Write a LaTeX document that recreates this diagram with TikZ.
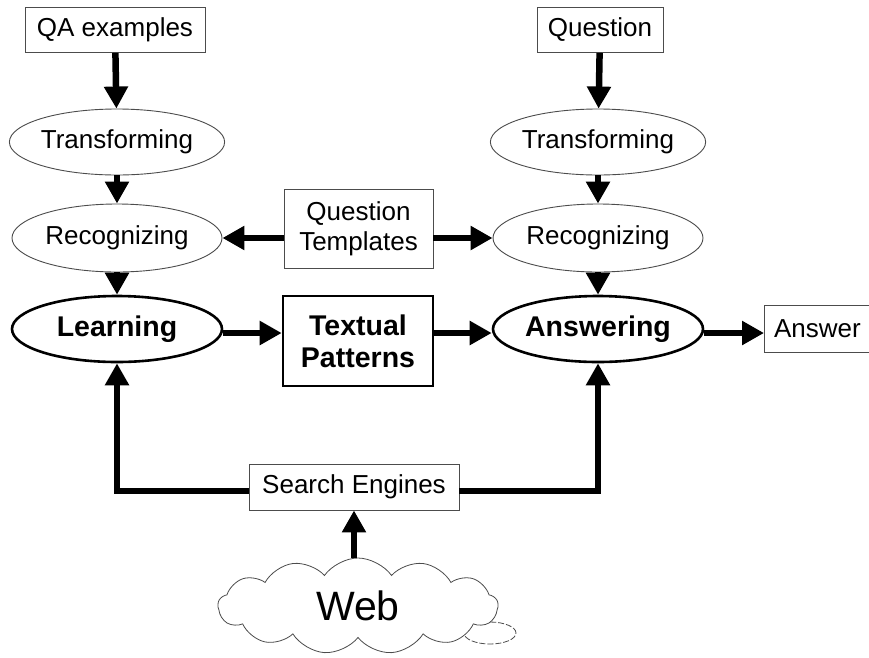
\documentclass[tikz,border=0pt]{standalone}
\usepackage{fontspec}
\setmainfont{Liberation Sans}
\usetikzlibrary{arrows.meta,shapes.geometric,shapes.symbols}
\begin{document}
\begin{tikzpicture}[x=1pt,y=-1pt,
  box/.style={draw=black!70,line width=0.9pt,rectangle,inner sep=0pt,font=\fontsize{26}{30}\selectfont,align=center},
  thinell/.style={draw=black!70,line width=0.9pt,ellipse,inner sep=0pt,minimum width=210pt,minimum height=66pt,font=\fontsize{26}{30}\selectfont},
  thickell/.style={draw=black,line width=2.6pt,ellipse,inner sep=0pt,minimum width=210pt,minimum height=66pt,font=\bfseries\fontsize{28.5}{32}\selectfont},
  thickbox/.style={draw=black,line width=2.6pt,rectangle,inner sep=0pt,minimum width=150pt,minimum height=90pt,font=\bfseries\fontsize{28.5}{32}\selectfont,align=center},
  arr/.style={line width=6.5pt,-{Triangle[length=22pt,width=23pt]}}]
\useasboundingbox (0,0) rectangle (869,657);
\fill[white] (0,0) rectangle (869,657);
% nodes
\node[box,minimum width=180pt,minimum height=45pt] (qa) at (115,30) {QA examples};
\node[box,minimum width=126pt,minimum height=45pt] (q) at (600,30) {Question};
\node[thinell] (tl) at (117,142) {Transforming};
\node[thinell] (tr) at (598,142) {Transforming};
\node[thinell,minimum height=68pt] (rl) at (117,238) {Recognizing};
\node[thinell,minimum height=68pt] (rr) at (598,238) {Recognizing};
\node[box,minimum width=149pt,minimum height=79pt,font=\fontsize{26}{30}\selectfont] (qt) at (358.5,228.5) {Question\\Templates};
\node[thickell] (learn) at (117,329) {Learning};
\node[thickell] (ans) at (598,329) {Answering};
\node[thickbox] (tp) at (358,341) {Textual\\Patterns};
\node[box,minimum width=112pt,minimum height=47pt,anchor=west] (answer) at (764,329) {\hspace*{-6pt}Answer};
\node[box,minimum width=210pt,minimum height=46pt] (se) at (354,487) {Search Engines};
% cloud
\draw[black!70,line width=0.8pt,dash pattern=on 6pt off 2pt] (490,633) ellipse (26pt and 11pt);
\node[cloud,cloud puffs=13,cloud puff arc=110,aspect=3.2,draw=black!70,fill=white,line width=0.8pt,
  minimum width=280pt,minimum height=96pt,inner sep=0pt,font=\fontsize{41}{45}\selectfont] (web) at (358,606) {Web};
% connectors
\draw[arr] (qa) -- (tl);
\draw[arr] (tl) -- (rl);
\draw[arr] (rl) -- (learn);
\draw[arr] (q) -- (tr);
\draw[arr] (tr) -- (rr);
\draw[arr] (rr) -- (ans);
\draw[arr] (qt.west |- rl) -- (rl.east);
\draw[arr] (qt.east |- rr) -- (rr.west);
\draw[arr] (learn.east |- 0,333) -- (tp.west |- 0,333);
\draw[arr] (tp.east |- 0,333) -- (ans.west |- 0,333);
\draw[arr] (ans.east |- 0,333) -- (answer.west |- 0,333);
\draw[arr] (se.west |- 0,491) -| (learn.south);
\draw[arr] (se.east |- 0,491) -| (ans.south);
\draw[arr] (web.north -| se) -- (se.south);
\end{tikzpicture}
\end{document}
